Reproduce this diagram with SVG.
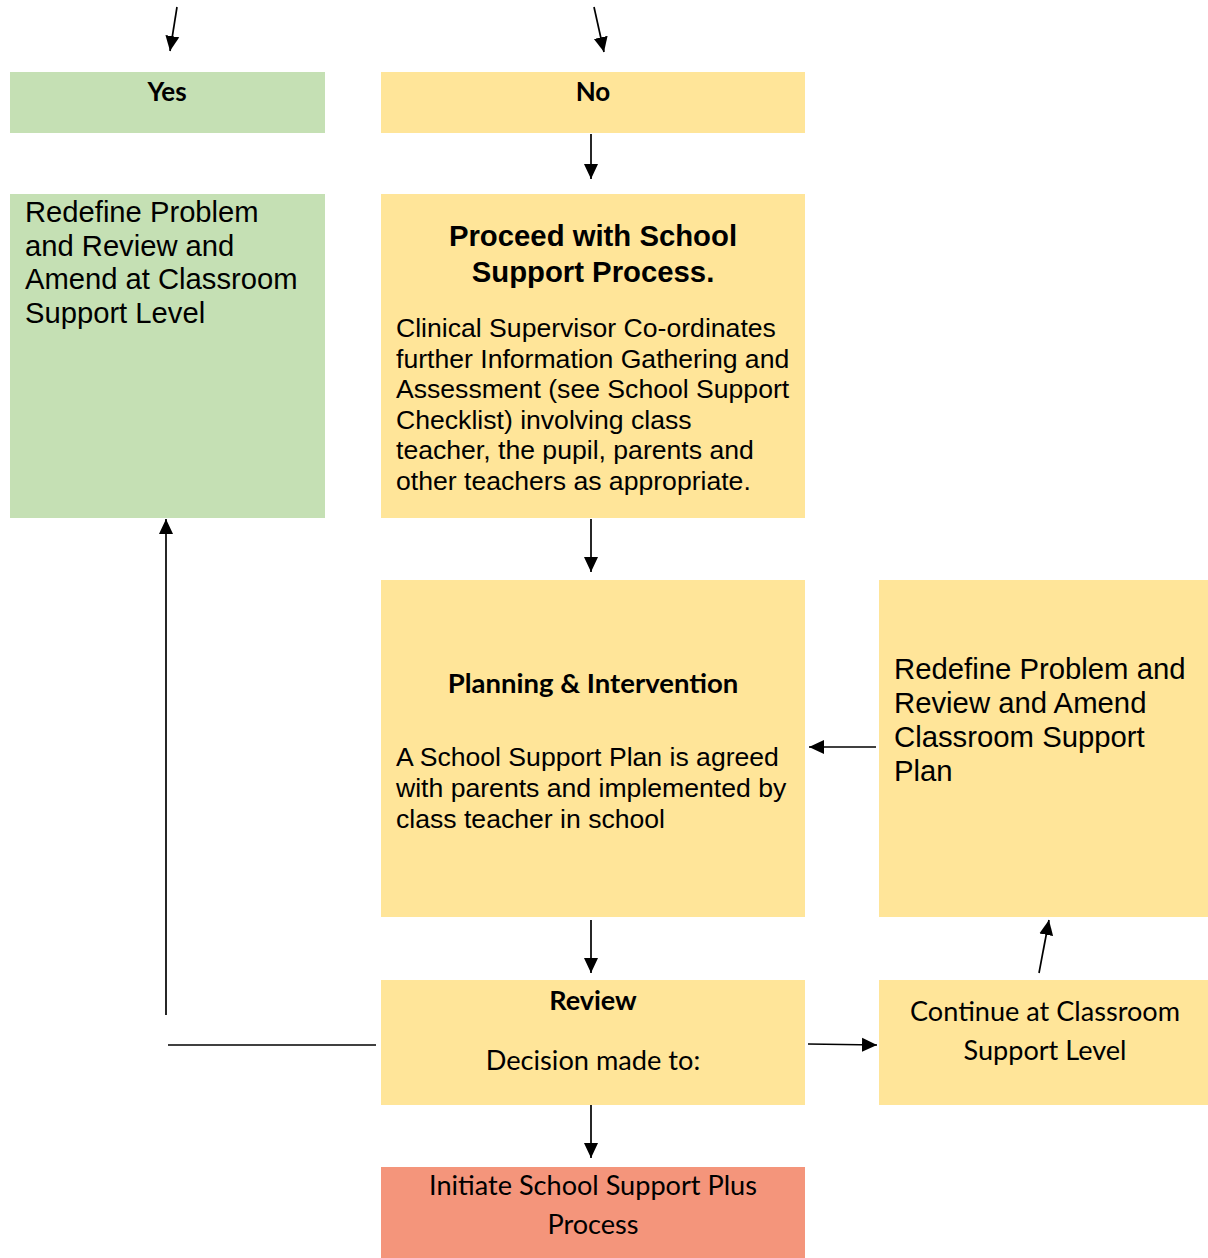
<svg xmlns="http://www.w3.org/2000/svg" width="1208" height="1258" viewBox="0 0 1208 1258">
<defs>
<marker id="ah" markerWidth="16" markerHeight="16" refX="15" refY="7" orient="auto" markerUnits="userSpaceOnUse" viewBox="0 0 16 14">
<path d="M0,0 L15,7 L0,14 Z" fill="#000"/>
</marker>
<style>
.g{fill:#C5E0B4}
.y{fill:#FFE599}
.r{fill:#F4957B}
.a{font-family:"Liberation Sans",Arial,sans-serif;fill:#000}
.c{font-family:Lato,"Open Sans",sans-serif;fill:#000}
.ln{stroke:#000;stroke-width:1.7;fill:none}
</style>
</defs>
<rect width="1208" height="1258" fill="#fff"/>
<g id="yes"><rect class="g" x="10" y="72" width="315" height="61"/><text class="c" x="167" y="101" font-size="26" font-weight="bold" text-anchor="middle">Yes</text></g>
<g id="no"><rect class="y" x="381" y="72" width="424" height="61"/><text class="c" x="593" y="101" font-size="26" font-weight="bold" text-anchor="middle">No</text></g>
<g id="redefine-left"><rect class="g" x="10" y="194" width="315" height="324"/>
<text class="a" font-size="29.2"><tspan x="25" y="222">Redefine Problem</tspan><tspan x="25" y="256">and Review and</tspan><tspan x="25" y="289">Amend at Classroom</tspan><tspan x="25" y="323">Support Level</tspan></text></g>
<g id="proceed"><rect class="y" x="381" y="194" width="424" height="324"/>
<text class="a" font-size="29.3" font-weight="bold" text-anchor="middle"><tspan x="593" y="246">Proceed with School</tspan><tspan x="593" y="282">Support Process.</tspan></text>
<text class="a" font-size="26.6"><tspan x="396" y="337">Clinical Supervisor Co-ordinates</tspan><tspan x="396" y="368">further Information Gathering and</tspan><tspan x="396" y="398">Assessment (see School Support</tspan><tspan x="396" y="429">Checklist) involving class</tspan><tspan x="396" y="459">teacher, the pupil, parents and</tspan><tspan x="396" y="490">other teachers as appropriate.</tspan></text></g>
<g id="planning"><rect class="y" x="381" y="580" width="424" height="337"/>
<text class="c" x="593" y="693" font-size="27.5" font-weight="bold" text-anchor="middle">Planning &amp; Intervention</text>
<text class="a" font-size="26.6"><tspan x="396" y="766">A School Support Plan is agreed</tspan><tspan x="396" y="797">with parents and implemented by</tspan><tspan x="396" y="828">class teacher in school</tspan></text></g>
<g id="redefine-right"><rect class="y" x="879" y="580" width="329" height="337"/>
<text class="a" font-size="29.3"><tspan x="894" y="679">Redefine Problem and</tspan><tspan x="894" y="713">Review and Amend</tspan><tspan x="894" y="747">Classroom Support</tspan><tspan x="894" y="781">Plan</tspan></text></g>
<g id="review"><rect class="y" x="381" y="980" width="424" height="125"/>
<text class="c" x="593" y="1010" font-size="27" font-weight="bold" text-anchor="middle">Review</text>
<text class="c" x="593" y="1070" font-size="27.2" text-anchor="middle">Decision made to:</text></g>
<g id="continue"><rect class="y" x="879" y="980" width="329" height="125"/>
<text class="c" font-size="27.1" text-anchor="middle"><tspan x="1045" y="1021">Continue at Classroom</tspan><tspan x="1045" y="1060">Support Level</tspan></text></g>
<g id="initiate"><rect class="r" x="381" y="1167" width="424" height="91"/>
<text class="c" font-size="27.1" text-anchor="middle"><tspan x="593" y="1195">Initiate School Support Plus</tspan><tspan x="593" y="1234">Process</tspan></text></g>
<g id="connectors" class="ln">
<line x1="177" y1="7" x2="170" y2="51" marker-end="url(#ah)"/>
<line x1="594" y1="7" x2="604" y2="52" marker-end="url(#ah)"/>
<line x1="591" y1="134" x2="591" y2="179" marker-end="url(#ah)"/>
<line x1="591" y1="519" x2="591" y2="572" marker-end="url(#ah)"/>
<line x1="876" y1="747" x2="809" y2="747" marker-end="url(#ah)"/>
<line x1="591" y1="920" x2="591" y2="973" marker-end="url(#ah)"/>
<line x1="591" y1="1105" x2="591" y2="1158" marker-end="url(#ah)"/>
<line x1="808" y1="1044" x2="877" y2="1045" marker-end="url(#ah)"/>
<line x1="1039" y1="973" x2="1049" y2="920" marker-end="url(#ah)"/>
<line x1="376" y1="1045" x2="168" y2="1045"/>
<line x1="166" y1="1015" x2="166" y2="519" marker-end="url(#ah)"/>
</g>
</svg>
